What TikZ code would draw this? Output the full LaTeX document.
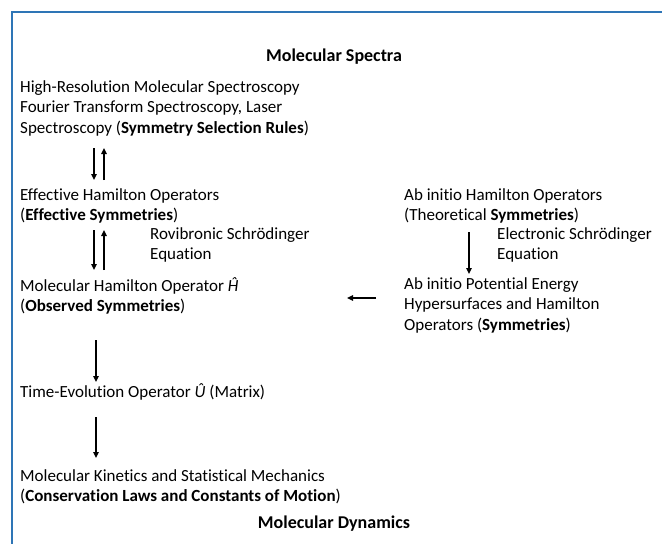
\documentclass[tikz,border=0pt]{standalone}
\usepackage{fontspec}
\setmainfont{Carlito}[Ligatures=NoCommon]
\usetikzlibrary{arrows.meta}
\definecolor{framecol}{RGB}{46,117,182}
\tikzset{
  txt/.style={anchor=north west, inner sep=0pt, align=left, font=\fontsize{17}{20.5}\selectfont},
  ttl/.style={anchor=center, inner sep=0pt, font=\fontsize{18}{21}\selectfont\bfseries},
  arr/.style={line width=1.8pt, -{Triangle[length=6pt,width=5.5pt]}},
}
\begin{document}
\begin{tikzpicture}[x=1pt,y=-1pt]
\useasboundingbox (0,0) rectangle (662,544);
\fill[white] (0,0) rectangle (662,544);
\draw[framecol, line width=2pt] (12,12) rectangle (720,600);

\node[ttl] (spectra) at (334,57) {Molecular Spectra};
\node[txt] (hires) at (20,80) {High-Resolution Molecular Spectroscopy\\Fourier Transform Spectroscopy, Laser\\Spectroscopy (\textbf{Symmetry Selection Rules})};
\node[txt] (effham) at (20,188) {Effective Hamilton Operators\\(\textbf{Effective Symmetries})};
\node[txt] (abham) at (404,188) {Ab initio Hamilton Operators\\(Theoretical \textbf{Symmetries})};
\node[txt] (rovib) at (150,227) {Rovibronic Schrödinger\\Equation};
\node[txt] (elec) at (497,227) {Electronic Schrödinger\\Equation};
\node[txt] (molham) at (20,277) {Molecular Hamilton Operator \textit{Ĥ}\\(\textbf{Observed Symmetries})};
\node[txt] (abpot) at (404,277) {Ab initio Potential Energy\\Hypersurfaces and Hamilton\\Operators (\textbf{Symmetries})};
\node[txt] (timeev) at (20,383) {Time-Evolution Operator \textit{Û} (Matrix)};
\node[txt] (kin) at (20,469) {Molecular Kinetics and Statistical Mechanics\\(\textbf{Conservation Laws and Constants of Motion})};
\node[ttl] (dyn) at (334,524) {Molecular Dynamics};

\coordinate (a1t) at (94,148); \coordinate (a1b) at (94,180);
\coordinate (b1t) at (104,148); \coordinate (b1b) at (104,180);
\draw[arr] (a1t) -- (a1b);
\draw[arr] (b1b) -- (b1t);
\coordinate (a2t) at (94,230); \coordinate (a2b) at (94,270);
\coordinate (b2t) at (104,230); \coordinate (b2b) at (104,270);
\draw[arr] (a2t) -- (a2b);
\draw[arr] (b2b) -- (b2t);
\coordinate (ct) at (469,232); \coordinate (cb) at (469,274);
\draw[arr] (ct) -- (cb);
\coordinate (dr) at (376,298); \coordinate (dl) at (347,298);
\draw[arr] (dr) -- (dl);
\coordinate (et) at (96,340); \coordinate (eb) at (96,382);
\draw[arr] (et) -- (eb);
\coordinate (ft) at (96,417); \coordinate (fb) at (96,458);
\draw[arr] (ft) -- (fb);
\end{tikzpicture}
\end{document}
